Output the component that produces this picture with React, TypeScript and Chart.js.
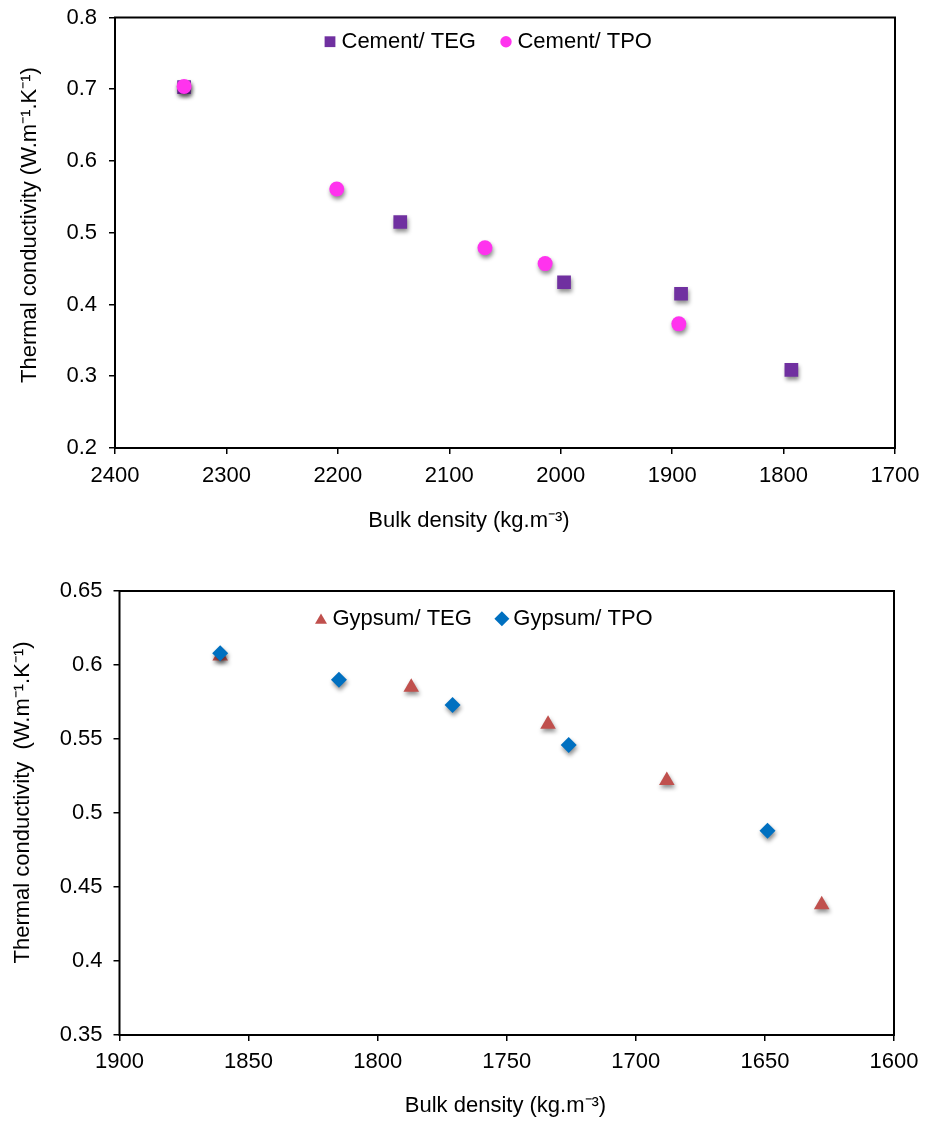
import React, { useEffect, useRef } from 'react';
import { Chart, registerables } from 'chart.js';
Chart.register(...registerables);

const FONT = '"Liberation Sans", Arial, Helvetica, sans-serif';

// ---------- Data ----------
const cementTegDensity = [2338, 2144, 1997, 1892, 1793];
const cementTegK = [0.703, 0.515, 0.431, 0.415, 0.309];
const cementTpoDensity = [2338, 2201, 2068, 2014, 1894];
const cementTpoK = [0.704, 0.561, 0.479, 0.457, 0.373];

const gypsumTegDensity = [1861, 1787, 1734, 1688, 1628];
const gypsumTegK = [0.606, 0.585, 0.56, 0.522, 0.438];
const gypsumTpoDensity = [1861, 1815, 1771, 1726, 1649];
const gypsumTpoK = [0.608, 0.59, 0.573, 0.546, 0.488];

const cementLabels = ['Cement/ TEG', 'Cement/ TPO'];
const gypsumLabels = ['Gypsum/ TEG', 'Gypsum/ TPO'];

const cementXTicks = { min: 1700, max: 2400, step: 100 };
const cementYTicks = { min: 0.2, max: 0.8, step: 0.1 };
const gypsumXTicks = { min: 1600, max: 1900, step: 50 };
const gypsumYTicks = { min: 0.35, max: 0.65, step: 0.05 };

const yTitleTop = 'Thermal conductivity (W.m\u207B\u00B9.K\u207B\u00B9)';
const yTitleBottom = 'Thermal conductivity  (W.m\u207B\u00B9.K\u207B\u00B9)';
const xTitle = 'Bulk density (kg.m\u207B\u00B3)';

const toPoints = (xs: number[], ys: number[]) => xs.map((x, i) => ({ x, y: ys[i] }));
const fmt = (v: any) => String(parseFloat(Number(v).toFixed(2)));

function drawMarker(ctx: CanvasRenderingContext2D, style: string, color: string, x: number, y: number, r: number) {
  ctx.fillStyle = color;
  ctx.beginPath();
  if (style === 'rect') {
    ctx.rect(x - r, y - r, 2 * r, 2 * r);
  } else if (style === 'circle') {
    ctx.arc(x, y, r, 0, Math.PI * 2);
  } else if (style === 'triangle') {
    ctx.moveTo(x, y - r);
    ctx.lineTo(x + r * 0.866, y + r * 0.5);
    ctx.lineTo(x - r * 0.866, y + r * 0.5);
    ctx.closePath();
  } else {
    ctx.moveTo(x, y - r);
    ctx.lineTo(x + r, y);
    ctx.lineTo(x, y + r);
    ctx.lineTo(x - r, y);
    ctx.closePath();
  }
  ctx.fill();
}

const decorPlugin = {
  id: 'decor',
  beforeDatasetsDraw(chart: any) {
    const ctx = chart.ctx;
    ctx.save();
    ctx.shadowColor = 'rgba(0,0,0,0.45)';
    ctx.shadowBlur = 4;
    ctx.shadowOffsetX = 1;
    ctx.shadowOffsetY = 3;
  },
  afterDatasetsDraw(chart: any) {
    chart.ctx.restore();
  },
  afterDraw(chart: any, _args: any, opts: any) {
    const { ctx, chartArea } = chart;
    ctx.save();
    // frame
    ctx.strokeStyle = '#000';
    ctx.lineWidth = 2;
    ctx.strokeRect(chartArea.left, chartArea.top, chartArea.right - chartArea.left, chartArea.bottom - chartArea.top);
    // legend
    ctx.font = `22px ${FONT}`;
    ctx.textBaseline = 'middle';
    ctx.textAlign = 'left';
    let x = chartArea.left + opts.legendX;
    const y = chartArea.top + opts.legendY;
    chart.data.datasets.forEach((ds: any, i: number) => {
      drawMarker(ctx, ds.pointStyle, ds.backgroundColor, x + 6, y + (opts.legendDy[i] || 0), opts.legendR[i]);
      ctx.fillStyle = '#000';
      ctx.fillText(ds.label, x + 17.5, y);
      x += 17.5 + ctx.measureText(ds.label).width + 24;
    });
    // x title
    ctx.font = `22px ${FONT}`;
    ctx.fillStyle = '#000';
    ctx.textAlign = 'center';
    ctx.textBaseline = 'middle';
    ctx.fillText(opts.xTitle, opts.xTitleX, opts.xTitleY);
    // y title
    ctx.translate(opts.yTitleX, opts.yTitleY);
    ctx.rotate(-Math.PI / 2);
    ctx.textAlign = 'left';
    ctx.fillText(opts.yTitle, 0, 0);
    ctx.restore();
  },
};

function makeConfig(p: any): any {
  return {
    type: 'scatter',
    data: { datasets: p.datasets },
    options: {
      responsive: false,
      animation: false,
      events: [],
      devicePixelRatio: 1,
      layout: { padding: p.padding },
      plugins: {
        legend: { display: false },
        tooltip: { enabled: false },
        decor: p.decor,
      },
      scales: {
        x: {
          type: 'linear',
          min: p.xt.min,
          max: p.xt.max,
          reverse: true,
          ticks: {
            stepSize: p.xt.step,
            color: '#000',
            font: { family: FONT, size: 22 },
            padding: p.xPad,
            maxRotation: 0,
            autoSkip: false,
            callback: (v: any) => String(v),
          },
          grid: { display: true, drawOnChartArea: false, drawTicks: true, tickLength: 6, color: '#000', lineWidth: 1.5 },
          border: { display: false },
          title: { display: false },
          afterFit: (s: any) => { s.height = p.xHeight; s.paddingLeft = 0; s.paddingRight = 0; },
        },
        y: {
          type: 'linear',
          min: p.yt.min,
          max: p.yt.max,
          ticks: {
            stepSize: p.yt.step,
            color: '#000',
            font: { family: FONT, size: 22 },
            padding: p.yPad,
            autoSkip: false,
            callback: fmt,
          },
          grid: { display: true, drawOnChartArea: false, drawTicks: true, tickLength: 6, color: '#000', lineWidth: 1.5 },
          border: { display: false },
          title: { display: false },
          afterFit: (s: any) => { s.width = p.yWidth; s.paddingTop = 0; s.paddingBottom = 0; },
        },
      },
    },
    plugins: [decorPlugin],
  };
}

export default function App() {
  const r1 = useRef<HTMLCanvasElement>(null);
  const r2 = useRef<HTMLCanvasElement>(null);

  useEffect(() => {
    const c1 = new Chart(r1.current as HTMLCanvasElement, makeConfig({
      datasets: [
        { label: cementLabels[0], data: toPoints(cementTegDensity, cementTegK), pointStyle: 'rect', pointRadius: 9.7, backgroundColor: '#7030A0', borderWidth: 0, order: 1 },
        { label: cementLabels[1], data: toPoints(cementTpoDensity, cementTpoK), pointStyle: 'circle', pointRadius: 7.5, backgroundColor: '#FF33EE', borderWidth: 0, order: 0 },
      ],
      padding: { left: 8, top: 17.5, right: 41, bottom: 0 },
      xt: cementXTicks, yt: cementYTicks,
      xPad: 9, yPad: 12, xHeight: 102, yWidth: 107,
      decor: {
        legendX: 209, legendY: 24.2, legendR: [5.4, 5.7], legendDy: [0, 0],
        xTitle, xTitleX: 469, xTitleY: 521,
        yTitle: yTitleTop, yTitleX: 30, yTitleY: 383,
      },
    }));
    const c2 = new Chart(r2.current as HTMLCanvasElement, makeConfig({
      datasets: [
        { label: gypsumLabels[0], data: toPoints(gypsumTegDensity, gypsumTegK), pointStyle: 'triangle', pointRadius: 9, backgroundColor: '#C0504D', borderWidth: 0, order: 1 },
        { label: gypsumLabels[1], data: toPoints(gypsumTpoDensity, gypsumTpoK), pointStyle: 'rectRot', pointRadius: 8, backgroundColor: '#0070C0', borderWidth: 0, order: 0 },
      ],
      padding: { left: 8, top: 41, right: 42, bottom: 0 },
      xt: gypsumXTicks, yt: gypsumYTicks,
      xPad: 8, yPad: 11, xHeight: 86, yWidth: 111.5,
      decor: {
        legendX: 195.5, legendY: 27.8, legendR: [6.9, 7.5], legendDy: [1.5, 0],
        xTitle, xTitleX: 505.5, xTitleY: 556,
        yTitle: yTitleBottom, yTitleX: 23, yTitleY: 413.5,
      },
    }));
    return () => { c1.destroy(); c2.destroy(); };
  }, []);

  return (
    <div style={{ position: 'absolute', left: 0, top: 0, width: 936, height: 1121, background: '#fff' }}>
      <canvas ref={r1} width={936} height={550} style={{ position: 'absolute', left: 0, top: 0 }} />
      <canvas ref={r2} width={936} height={571} style={{ position: 'absolute', left: 0, top: 550 }} />
    </div>
  );
}
